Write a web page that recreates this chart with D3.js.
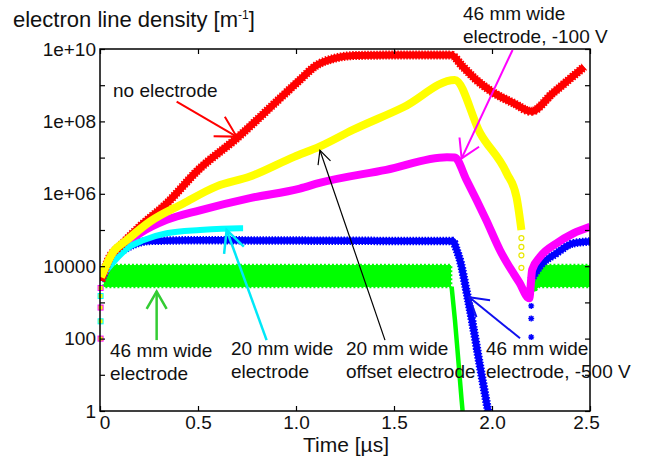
<!DOCTYPE html>
<html>
<head>
<meta charset="utf-8">
<script src="https://cdn.jsdelivr.net/npm/d3@7"></script>
<style>
body { margin: 0; background: #fff; }
svg { font-family: Arial, "Liberation Sans", Helvetica, sans-serif; }
.axis text { font-size: 19px; fill: #111; }
.axis path, .axis line { stroke: #000; }
.note { font-size: 19px; fill: #111; }
</style>
</head>
<body>
<script>
var width = 653,
    height = 461,
    margin = {top: 49, right: 63, bottom: 50, left: 100};

// tick labels
var xTickValues = [0, 0.5, 1, 1.5, 2, 2.5],
    xTickLabels = ["0", "0.5", "1.0", "1.5", "2.0", "2.5"];
var yTickValues = [1, 10, 100, 1e3, 1e4, 1e5, 1e6, 1e7, 1e8, 1e9, 1e10],
    yTickLabels = ["1", "", "100", "", "10000", "", "1e+06", "", "1e+08", "", "1e+10"];

// [time (us), electrons per m]
var noElectrode = [[0.005, 4e3], [0.05, 1.8e4], [0.1, 3.5e4], [0.2, 1.2e5], [0.34, 5.4e5],
    [0.5, 4.5e6], [0.7, 3.5e7], [0.9, 3.5e8], [1.02, 1.4e9], [1.1, 3.4e9], [1.2, 5.6e9],
    [1.3, 6.6e9], [1.5, 6.8e9], [1.79, 6.8e9], [1.85, 3.3e9], [1.92, 1.4e9], [2.0, 6.6e8],
    [2.11, 3.2e8], [2.2, 1.9e8], [2.31, 6.0e8], [2.47, 3.2e9]];
var offset20 = [[0.005, 5e3], [0.068, 2.5e4], [0.136, 5.2e4], [0.255, 1.7e5], [0.425, 5.4e5],
    [0.595, 1.6e6], [0.765, 3e6], [0.99, 1.05e7], [1.12, 2e7], [1.29, 5.8e7], [1.55, 2.5e8],
    [1.81, 1.4e9], [1.94, 4.7e7], [2.075, 3.7e6], [2.125, 8.1e5], [2.15, 1e5]];
var offset20Tail = [[2.15, 6e4], [2.15, 3.4e4], [2.15, 2e4], [2.15, 9e3]];
var wide46m100 = [[0.005, 5e3], [0.12, 3.5e4], [0.204, 8.1e4], [0.34, 1.9e5], [0.51, 3.5e5],
    [0.765, 7.6e5], [1.02, 1.4e6], [1.12, 2e6], [1.46, 4.6e6], [1.77, 1.02e7], [1.81, 1e7],
    [1.87, 2.4e6], [1.97, 1.9e5], [2.04, 2.8e4], [2.14, 3.5e3], [2.19, 1.3e3], [2.205, 8e3],
    [2.245, 1.8e4], [2.33, 4.3e4], [2.415, 8.1e4], [2.5, 1.23e5]];
var wide20 = [[0.005, 5e3], [0.153, 3.5e4], [0.22, 5.2e4], [0.34, 8.1e4], [0.51, 1e5],
    [0.714, 1.12e5], [0.73, 1.12e5]];
var wide46m500 = [[0.005, 4e3], [0.06, 1.6e4], [0.12, 2.8e4], [0.17, 3.9e4], [0.255, 5e4],
    [0.5, 5.2e4], [1.0, 5.1e4], [1.5, 5e4], [1.8, 5e4], [1.82, 2.8e4], [1.84, 1.26e4],
    [1.87, 2e3], [1.9, 280], [1.94, 16], [1.98, 1]];
var wide46m500Late = [[2.2, 4.2e3], [2.245, 1e4], [2.33, 2.3e4], [2.415, 4.3e4], [2.5, 4.8e4]];
var wide46m500Dots = [[2.2, 800], [2.2, 360], [2.2, 110]];
// green band: [time, low, high]
var wide46Band = [[0.02, 2700, 10700], [1.79, 2700, 10700]];
var wide46Drop = [[1.794, 2700], [1.811, 320], [1.828, 26], [1.845, 2], [1.85, 1]];
var wide46Late = [[2.215, 2000, 9000], [2.24, 2700, 10700], [2.5, 2700, 10700]];
var startDots = [[0.003, 100], [0.003, 300], [0.003, 720], [0.003, 1500], [0.003, 2500]];

var x = d3.scaleLinear()
    .domain([0, 2.5])
    .range([margin.left, width - margin.right]);

var y = d3.scaleLog()
    .domain([1, 1e10])
    .range([height - margin.bottom, margin.top]);

var svg = d3.select("body").append("svg")
    .attr("width", width)
    .attr("height", height);

svg.append("defs").append("clipPath")
    .attr("id", "clip")
    .append("rect")
    .attr("x", margin.left)
    .attr("y", margin.top)
    .attr("width", width - margin.left - margin.right)
    .attr("height", height - margin.top - margin.bottom);

var plot = svg.append("g").attr("clip-path", "url(#clip)");

var line = d3.line()
    .curve(d3.curveMonotoneX)
    .x(function (d) { return x(d[0]); })
    .y(function (d) { return y(d[1]); });

var band = d3.area()
    .x(function (d) { return x(d[0]); })
    .y0(function (d) { return y(d[1]); })
    .y1(function (d) { return y(d[2]); });

// green, drawn first
[wide46Band, wide46Late].forEach(function (b) {
    plot.append("path")
        .attr("d", band(b))
        .attr("fill", "#00ff00")
        .attr("stroke", "#00ff00")
        .attr("stroke-width", 3)
        .attr("stroke-dasharray", "2,2");
    plot.append("path")
        .attr("d", band(b))
        .attr("fill", "#00ff00");
});
plot.append("path")
    .attr("d", line(wide46Drop))
    .attr("fill", "none")
    .attr("stroke", "#00ff00")
    .attr("stroke-width", 4.5);

function series(data, color, w, ragged) {
    plot.append("path")
        .attr("d", line(data))
        .attr("fill", "none")
        .attr("stroke", color)
        .attr("stroke-width", w)
        .attr("stroke-linejoin", "round");
    if (!ragged) return;
    // ragged marker edge
    plot.append("path")
        .attr("d", line(data))
        .attr("fill", "none")
        .attr("stroke", color)
        .attr("stroke-width", w + 2)
        .attr("stroke-dasharray", "1.5,1.5");
}

series(wide46m500, "#0000ff", 6.5, true);
series(wide46m500Late, "#0000ff", 6.5, true);
series(wide46m100, "#ff00ff", 8, false);
series(wide20, "#00ffff", 6, false);
series(noElectrode, "#ff0000", 7, true);
series(offset20, "#ffff00", 8, false);

plot.selectAll(".ydot")
    .data(offset20Tail)
    .enter().append("circle")
    .attr("cx", function (d) { return x(d[0]); })
    .attr("cy", function (d) { return y(d[1]); })
    .attr("r", 2.5)
    .attr("fill", "none")
    .attr("stroke", "#e8e800")
    .attr("stroke-width", 1.2);

plot.selectAll(".bdot")
    .data(wide46m500Dots)
    .enter().append("path")
    .attr("transform", function (d) { return "translate(" + x(d[0]) + "," + y(d[1]) + ")"; })
    .attr("d", "M-3,0H3M0,-3V3M-2.2,-2.2L2.2,2.2M-2.2,2.2L2.2,-2.2")
    .attr("stroke", "#0000ff")
    .attr("stroke-width", 1.4);

svg.selectAll(".sdot")
    .data(startDots)
    .enter().append("rect")
    .attr("x", function (d) { return x(d[0]) - 2.5; })
    .attr("y", function (d) { return y(d[1]) - 2.5; })
    .attr("width", 5)
    .attr("height", 5)
    .attr("fill", "#ffff00")
    .attr("stroke", function (d, i) { return i % 2 ? "#00ffff" : "#ff00ff"; })
    .attr("stroke-width", 1);

// axes, ticks inside
var ylab = {};
yTickValues.forEach(function (v, i) { ylab[v] = yTickLabels[i]; });

svg.append("g")
    .attr("class", "axis")
    .attr("transform", "translate(" + margin.left + ",0)")
    .call(d3.axisLeft(y).tickValues(yTickValues).tickSizeInner(-5).tickSizeOuter(0)
        .tickPadding(4).tickFormat(function (d) { return ylab[d]; }));

svg.append("g")
    .attr("class", "axis")
    .attr("transform", "translate(" + (width - margin.right) + ",0)")
    .call(d3.axisRight(y).tickValues(yTickValues).tickSizeInner(-5).tickSizeOuter(0)
        .tickFormat(""));

var xAxis = svg.append("g")
    .attr("class", "axis")
    .attr("transform", "translate(0," + (height - margin.bottom) + ")")
    .call(d3.axisBottom(x).tickValues(xTickValues).tickSizeInner(-5).tickSizeOuter(0)
        .tickPadding(5).tickFormat(function (d, i) { return xTickLabels[i]; }));
xAxis.selectAll("text")
    .attr("dx", function (d, i) { return i === 0 ? 4.5 : (i === xTickValues.length - 1 ? -4 : 0); });

svg.append("g")
    .attr("class", "axis")
    .attr("transform", "translate(0," + margin.top + ")")
    .call(d3.axisTop(x).tickValues(xTickValues).tickSizeInner(-5).tickSizeOuter(0)
        .tickFormat(""));

svg.selectAll(".axis .domain").remove();
svg.selectAll(".axis line").attr("stroke-width", 1.2);

svg.append("rect")
    .attr("x", margin.left)
    .attr("y", margin.top)
    .attr("width", width - margin.left - margin.right)
    .attr("height", height - margin.top - margin.bottom)
    .attr("fill", "none")
    .attr("stroke", "#000")
    .attr("stroke-width", 1.5);

// titles
var title = svg.append("text")
    .attr("x", 13)
    .attr("y", 27)
    .style("font-size", "22px")
    .attr("fill", "#111")
    .text("electron line density [m");
title.append("tspan")
    .attr("dy", -8)
    .style("font-size", "12px")
    .text("-1");
title.append("tspan")
    .attr("dy", 8)
    .text("]");

svg.append("text")
    .attr("x", 346)
    .attr("y", 452)
    .attr("text-anchor", "middle")
    .style("font-size", "21px")
    .attr("fill", "#111")
    .text("Time [\u00b5s]");

// annotations
var notes = [
    {x: 113, y: 97, lines: ["no electrode"]},
    {x: 463, y: 20, lines: ["46 mm wide", "electrode, -100 V"]},
    {x: 110, y: 357, lines: ["46 mm wide", "electrode"]},
    {x: 231, y: 355, lines: ["20 mm wide", "electrode"]},
    {x: 346, y: 355, lines: ["20 mm wide", "offset electrode"]},
    {x: 486, y: 355, lines: ["46 mm wide", "electrode, -500 V"]}
];
notes.forEach(function (n) {
    var t = svg.append("text").attr("class", "note");
    n.lines.forEach(function (s, i) {
        t.append("tspan").attr("x", n.x).attr("y", n.y + i * 23).text(s);
    });
});

// arrows: tail and tip in data units
var arrows = [
    {from: [0.391, 3.5e8], to: [0.697, 3.8e7], color: "#ff0000", w: 2, len: 23, half: 29},
    {from: [2.105, 9.4e9], to: [1.845, 9.5e6], color: "#ff00ff", w: 2, len: 21, half: 31},
    {from: [1.454, 91], to: [1.122, 1.6e7], color: "#000000", w: 1.2, len: 15, half: 26},
    {from: [0.85, 91], to: [0.646, 1e5], color: "#00e8f8", w: 2.5, len: 24, half: 26},
    {from: [0.289, 91], to: [0.289, 2000], color: "#33cc33", w: 2.5, len: 20, half: 30},
    {from: [2.143, 102], to: [1.884, 1380], color: "#1010ee", w: 2, len: 21, half: 31}
];
arrows.forEach(function (a) {
    var x1 = x(a.from[0]), y1 = y(a.from[1]),
        x2 = x(a.to[0]), y2 = y(a.to[1]),
        ang = Math.atan2(y1 - y2, x1 - x2),
        h = a.half * Math.PI / 180;
    var g = svg.append("g")
        .attr("stroke", a.color)
        .attr("stroke-width", a.w)
        .attr("fill", "none");
    g.append("line")
        .attr("x1", x1).attr("y1", y1)
        .attr("x2", x2).attr("y2", y2);
    g.append("path")
        .attr("d", "M" + (x2 + a.len * Math.cos(ang - h)) + "," + (y2 + a.len * Math.sin(ang - h)) +
            "L" + x2 + "," + y2 +
            "L" + (x2 + a.len * Math.cos(ang + h)) + "," + (y2 + a.len * Math.sin(ang + h)));
});
</script>
</body>
</html>
